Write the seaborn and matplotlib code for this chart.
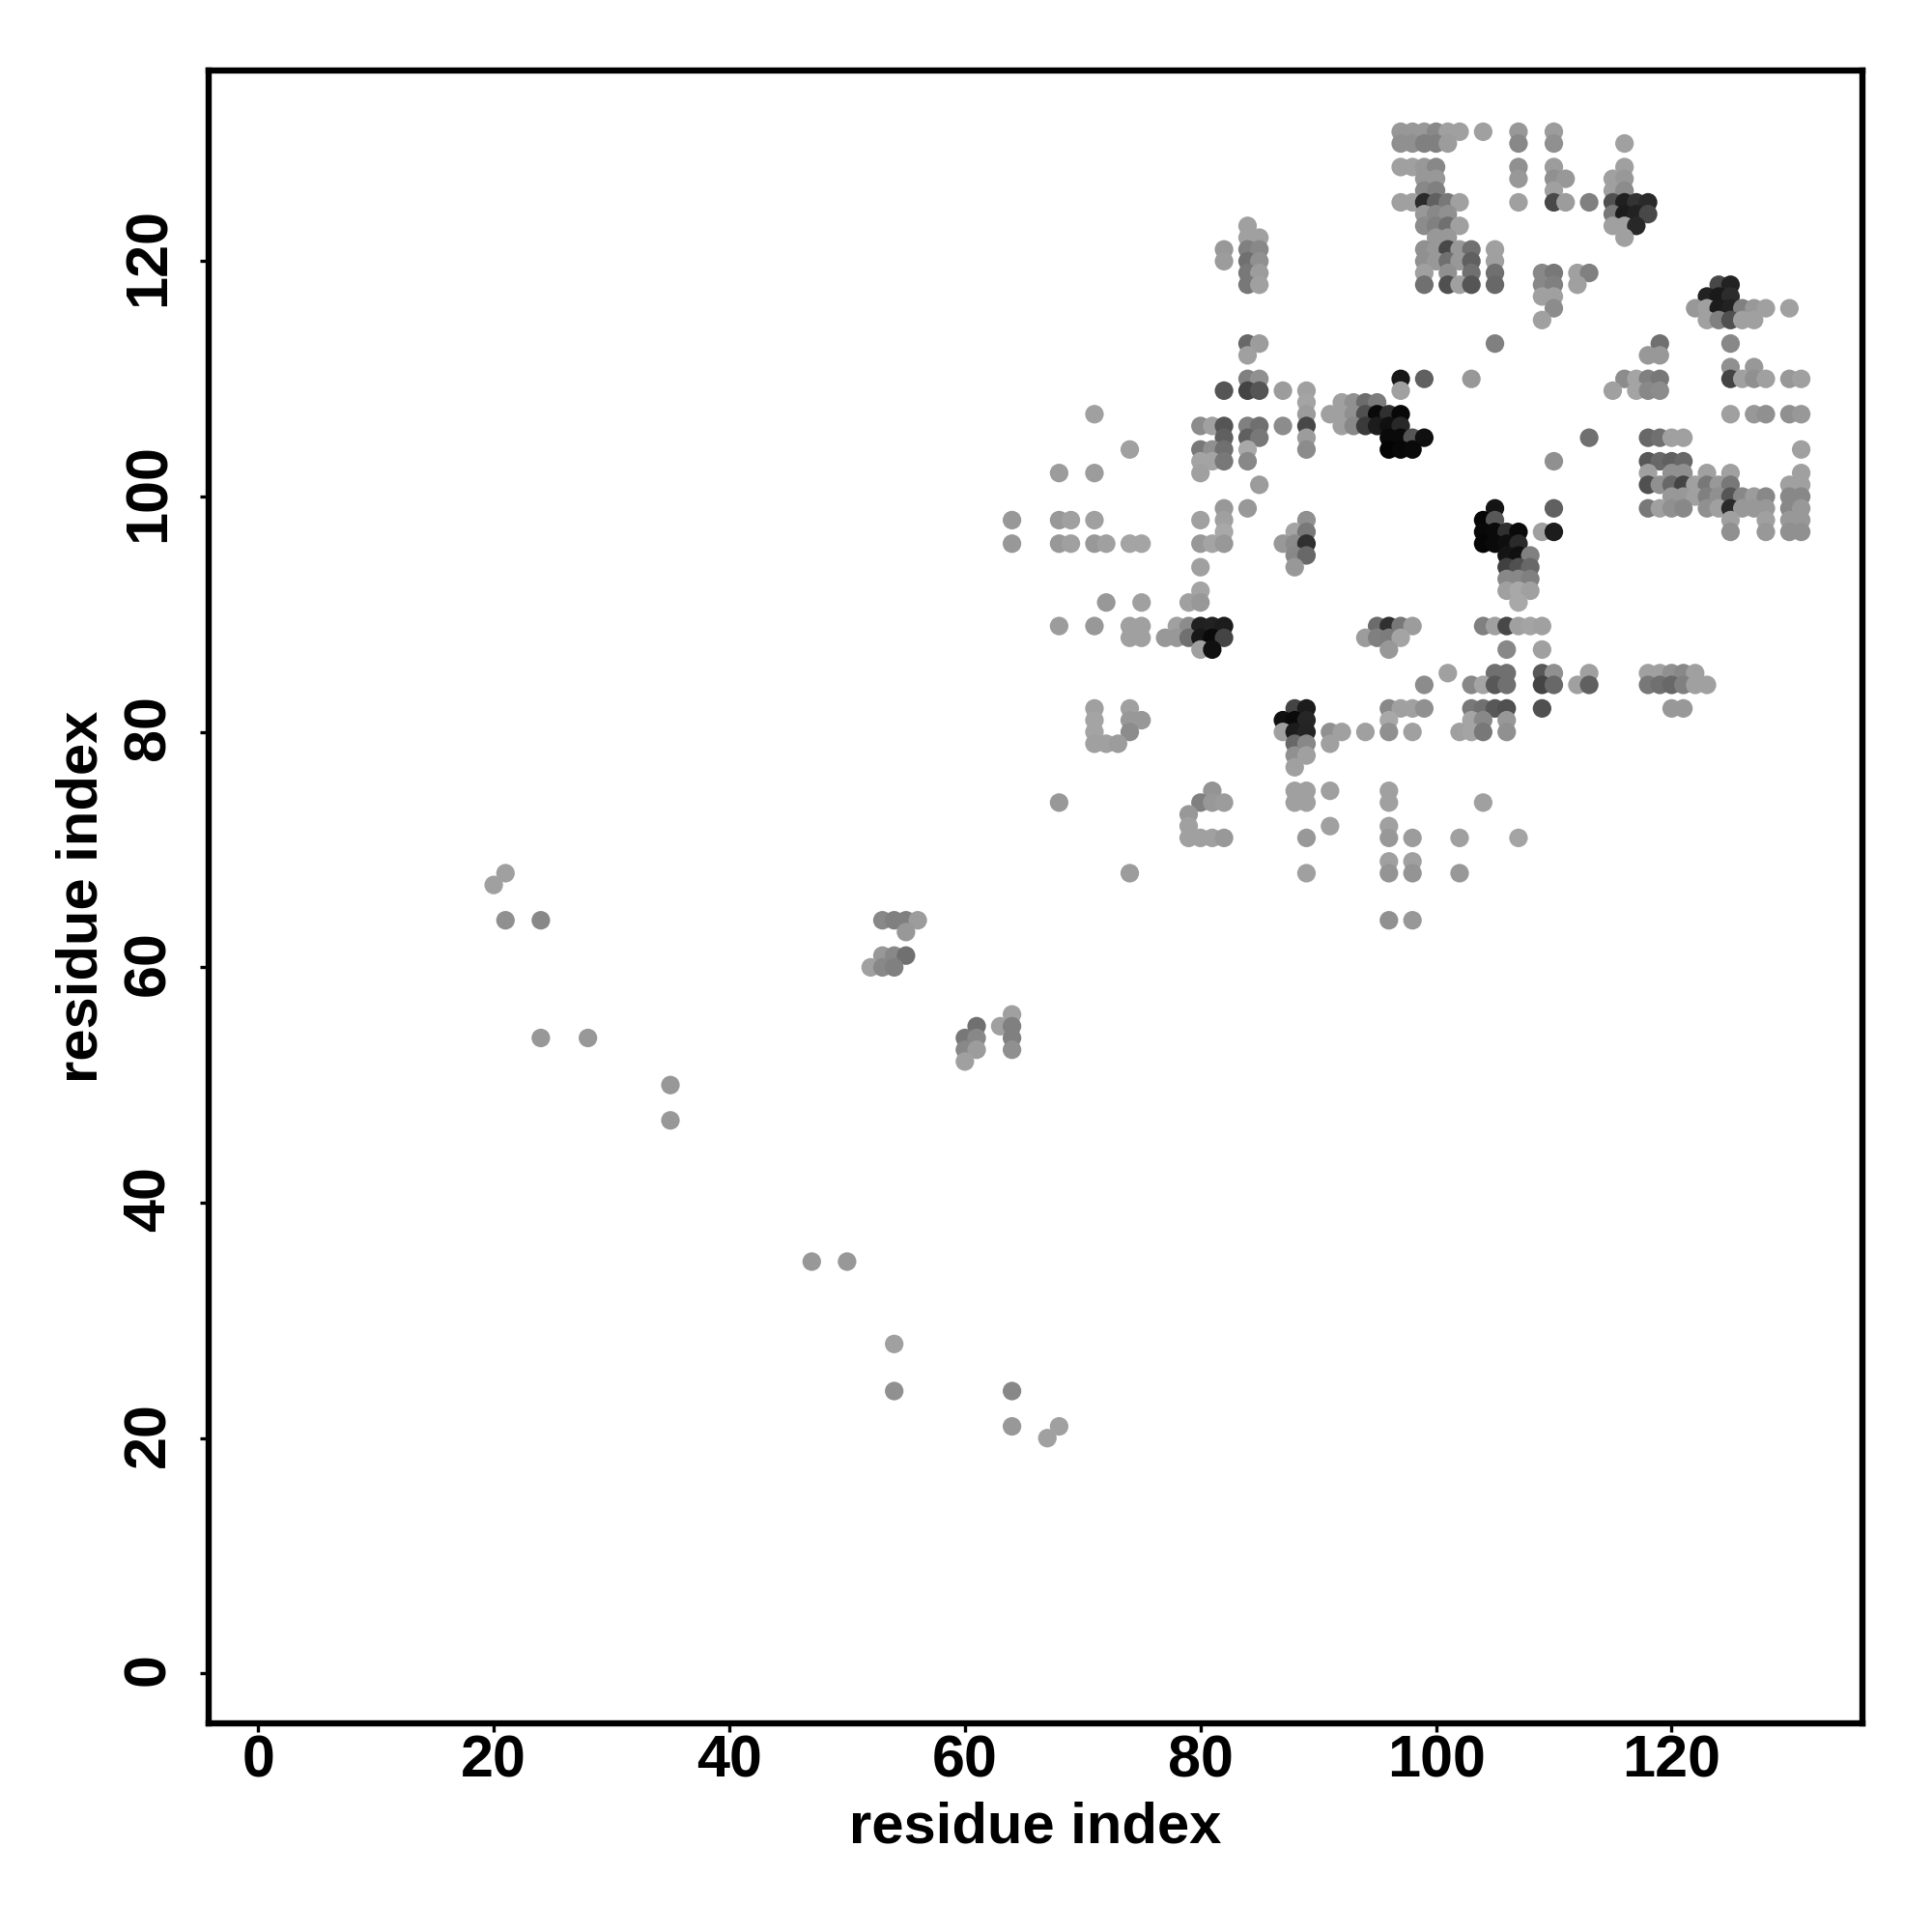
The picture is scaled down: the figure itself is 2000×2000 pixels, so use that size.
"""Residue contact map, grey level shows the contact strength."""
import matplotlib
matplotlib.use("Agg")
import matplotlib.pyplot as plt
from matplotlib.transforms import ScaledTranslation
import pandas as pd
import seaborn as sns

# one entry per row of the map: y index, then x indices and grey levels (0-255)
ROW_Y = [131, 130, 128, 127, 126, 125, 124, 123, 122, 121, 120, 119, 118, 117, 116, 115,
         113, 112, 111, 110, 109, 108, 107, 106, 105, 104, 103, 102, 101, 100, 99, 98,
         97, 96, 95, 94, 93, 92, 91, 89, 88, 87, 85, 84, 82, 81, 80, 79, 78, 77, 75, 74,
         73, 72, 71, 69, 68, 67, 64, 63, 61, 60, 56, 55, 54, 53, 52, 50, 47, 35, 28, 24, 21, 20]

ROW_X = [
    [97, 98, 99, 100, 101, 102, 104, 107, 110],
    [97, 98, 99, 100, 101, 107, 110, 116],
    [97, 98, 99, 100, 107, 110, 116],
    [99, 100, 107, 110, 111, 115, 116],
    [99, 100, 110, 115, 116],
    [97, 98, 99, 100, 101, 102, 107, 110, 111, 113, 115, 116, 117, 118],
    [99, 100, 101, 115, 116, 117, 118],
    [84, 99, 100, 101, 102, 115, 116, 117],
    [84, 85, 100, 101, 116],
    [82, 84, 85, 99, 100, 101, 102, 103, 105],
    [82, 84, 85, 99, 100, 101, 102, 103, 105],
    [84, 85, 99, 101, 103, 105, 109, 110, 112, 113],
    [84, 85, 99, 101, 102, 103, 105, 109, 110, 112, 124, 125],
    [109, 110, 123, 124, 125],
    [110, 122, 123, 124, 125, 126, 127, 128, 130],
    [109, 123, 124, 125, 126, 127],
    [84, 85, 105, 119, 125],
    [84, 118, 119],
    [125, 127],
    [84, 85, 97, 99, 103, 116, 117, 118, 119, 125, 126, 127, 128, 130, 131],
    [82, 84, 85, 87, 89, 97, 115, 117, 118, 119],
    [89, 92, 93, 94, 95],
    [71, 89, 91, 92, 93, 94, 95, 96, 97, 125, 127, 128, 130, 131],
    [80, 81, 82, 84, 85, 87, 89, 92, 93, 94, 95, 96, 97],
    [82, 84, 85, 89, 96, 97, 98, 99, 113, 118, 119, 120, 121],
    [74, 80, 81, 82, 84, 89, 96, 97, 98, 131],
    [80, 81, 82, 84, 110, 118, 119, 120, 121],
    [68, 71, 80, 118, 120, 121, 123, 125, 131],
    [85, 118, 119, 120, 121, 122, 123, 124, 125, 130, 131],
    [120, 121, 122, 123, 124, 125, 126, 127, 128, 130, 131],
    [82, 84, 105, 110, 118, 119, 120, 121, 123, 124, 125, 126, 127, 128, 130, 131],
    [64, 68, 69, 71, 80, 82, 89, 104, 105, 125, 128, 130, 131],
    [82, 88, 89, 104, 105, 106, 107, 109, 110, 125, 128, 130, 131],
    [64, 68, 69, 71, 72, 74, 75, 80, 81, 82, 87, 88, 89, 104, 105, 106, 107],
    [88, 89, 106, 107, 108],
    [80, 88, 106, 107, 108],
    [106, 107, 108],
    [80, 106, 107, 108],
    [72, 75, 79, 80, 107],
    [68, 71, 74, 75, 78, 79, 80, 81, 82, 95, 96, 97, 98, 104, 105, 106, 107, 108, 109],
    [74, 75, 77, 78, 79, 80, 81, 82, 94, 95, 96, 97],
    [80, 81, 96, 106, 109],
    [101, 105, 106, 109, 110, 113, 118, 119, 120, 121, 122],
    [99, 103, 104, 105, 106, 109, 110, 112, 113, 118, 119, 120, 121, 122, 123],
    [71, 74, 88, 89, 96, 97, 98, 99, 103, 104, 105, 106, 109, 120, 121],
    [71, 74, 75, 87, 88, 89, 96, 103, 104, 106],
    [71, 74, 87, 88, 89, 91, 92, 94, 96, 98, 102, 103, 104, 106],
    [71, 72, 73, 88, 89, 91],
    [88, 89],
    [88],
    [81, 88, 89, 91, 96],
    [68, 80, 81, 82, 88, 89, 96, 104],
    [79],
    [79, 91, 96],
    [79, 80, 81, 82, 89, 96, 98, 102, 107],
    [96, 98],
    [21, 74, 89, 96, 98, 102],
    [20],
    [21, 24, 53, 54, 55, 56, 96, 98],
    [55],
    [53, 54, 55],
    [52, 53, 54],
    [64],
    [61, 63, 64],
    [24, 28, 60, 61, 64],
    [60, 61, 64],
    [60],
    [35],
    [35],
    [47, 50],
    [54],
    [54, 64],
    [64, 68],
    [67],
]

ROW_GREY = [
    [152, 152, 152, 136, 160, 160, 160, 152, 156],
    [144, 144, 128, 128, 156, 136, 144, 160],
    [160, 160, 152, 136, 144, 156, 160],
    [152, 152, 152, 144, 152, 160, 152],
    [136, 128, 160, 160, 140],
    [160, 160, 42, 96, 120, 160, 160, 72, 156, 128, 80, 32, 51, 42],
    [152, 136, 144, 120, 28, 34, 72],
    [160, 140, 128, 112, 160, 160, 160, 40],
    [160, 160, 152, 152, 160],
    [152, 128, 136, 144, 152, 72, 152, 112, 160],
    [156, 112, 144, 144, 152, 112, 152, 96, 160],
    [120, 156, 160, 144, 112, 112, 136, 120, 160, 128],
    [120, 160, 112, 80, 160, 85, 104, 136, 128, 160, 72, 34],
    [160, 160, 34, 26, 44],
    [140, 152, 160, 28, 34, 128, 152, 160, 160],
    [160, 160, 128, 80, 160, 160],
    [104, 156, 128, 112, 136],
    [160, 152, 152],
    [144, 152],
    [128, 144, 24, 96, 152, 140, 164, 128, 120, 68, 160, 144, 160, 152, 160],
    [85, 68, 85, 156, 160, 160, 160, 164, 136, 140],
    [164, 160, 144, 108, 124],
    [160, 156, 160, 160, 144, 80, 10, 48, 8, 160, 152, 144, 144, 152],
    [140, 160, 85, 128, 112, 140, 72, 160, 136, 58, 28, 16, 40],
    [96, 96, 120, 156, 10, 10, 85, 16, 112, 104, 112, 160, 160],
    [160, 120, 144, 112, 168, 140, 4, 8, 10, 160],
    [164, 164, 120, 136, 144, 88, 104, 96, 104],
    [156, 156, 160, 160, 144, 144, 160, 160, 160],
    [156, 80, 144, 104, 68, 160, 120, 152, 120, 160, 160],
    [152, 152, 160, 128, 144, 85, 136, 156, 136, 136, 136],
    [152, 152, 20, 96, 120, 160, 144, 136, 144, 160, 42, 152, 152, 152, 136, 152],
    [152, 152, 160, 160, 160, 160, 144, 6, 88, 160, 160, 152, 152],
    [168, 164, 120, 8, 10, 48, 10, 160, 28, 144, 152, 144, 144],
    [152, 152, 160, 152, 160, 164, 164, 152, 164, 152, 152, 140, 48, 6, 10, 14, 42],
    [136, 104, 20, 16, 128],
    [160, 152, 64, 80, 104],
    [136, 136, 128],
    [164, 160, 168, 160],
    [152, 160, 160, 152, 168],
    [156, 152, 160, 160, 160, 140, 32, 34, 28, 108, 48, 120, 156, 128, 160, 72, 160, 164, 160],
    [160, 160, 152, 152, 112, 24, 10, 68, 156, 128, 124, 164],
    [160, 16, 152, 136, 160],
    [160, 112, 112, 88, 144, 160, 160, 160, 144, 136, 160],
    [140, 136, 164, 88, 112, 68, 104, 160, 96, 120, 112, 104, 128, 160, 160],
    [160, 160, 68, 28, 136, 160, 160, 144, 120, 112, 88, 80, 80, 152, 152],
    [164, 152, 152, 16, 10, 38, 168, 164, 136, 152],
    [164, 140, 160, 28, 36, 144, 160, 160, 144, 160, 160, 164, 120, 144],
    [160, 160, 156, 104, 136, 160],
    [144, 160],
    [160],
    [148, 160, 160, 160, 160],
    [152, 128, 152, 156, 160, 160, 160, 160],
    [152],
    [160, 160, 160],
    [160, 160, 160, 152, 152, 152, 156, 160, 164],
    [160, 160],
    [160, 156, 160, 148, 148, 152],
    [160],
    [144, 136, 136, 128, 128, 156, 144, 152],
    [152],
    [152, 136, 112],
    [160, 136, 128],
    [160],
    [112, 160, 128],
    [152, 152, 120, 136, 128],
    [136, 156, 144],
    [160],
    [152],
    [152],
    [152, 152],
    [160],
    [144, 136],
    [152, 160],
    [160],
]

X_TICKS = [0, 20, 40, 60, 80, 100, 120]
Y_TICKS = [0, 20, 40, 60, 80, 100, 120]
AXIS_LABEL = "residue index"

records = []
for y, xs, greys in zip(ROW_Y, ROW_X, ROW_GREY):
    assert len(xs) == len(greys), y
    records.extend({"x": x, "y": y, "grey": g} for x, g in zip(xs, greys))
contacts = pd.DataFrame(records)

sns.set_theme(style="ticks")
plt.rcParams["font.family"] = ["Liberation Sans", "DejaVu Sans"]
plt.rcParams["font.weight"] = "bold"

fig = plt.figure(figsize=(10, 10), dpi=200, facecolor="white")
ax = fig.add_axes([0.108, 1 - 0.8918, 0.856, 0.8553])

sns.scatterplot(data=contacts, x="x", y="y", hue="grey", hue_norm=(0, 255),
                palette="gray", s=48, linewidth=0, legend=False, ax=ax)

ax.set_xlim(-4.2, 136.2)
ax.set_ylim(-4.2, 136.2)
ax.set_xticks(X_TICKS)
ax.set_yticks(Y_TICKS)
ax.tick_params(axis="both", direction="out", length=3.2, width=1.2, color="black",
               labelsize=22, labelcolor="black")
ax.tick_params(axis="x", pad=1)
ax.tick_params(axis="y", pad=8.5)
plt.setp(ax.get_yticklabels(), rotation=90, va="center")

# rotated labels sit a little low, nudge them back onto their ticks
nudge = ScaledTranslation(0, 1.5 / 72, fig.dpi_scale_trans)
for label in ax.get_yticklabels():
    label.set_transform(label.get_transform() + nudge)

ax.set_xlabel(AXIS_LABEL, fontsize=21.5, fontweight="bold", color="black", labelpad=4.5)
ax.set_ylabel(AXIS_LABEL, fontsize=21.5, fontweight="bold", color="black", labelpad=5)

for spine in ax.spines.values():
    spine.set_visible(True)
    spine.set_color("black")
    spine.set_linewidth(2.3)

fig.savefig("out.png", dpi=200, facecolor="white")
plt.close(fig)
